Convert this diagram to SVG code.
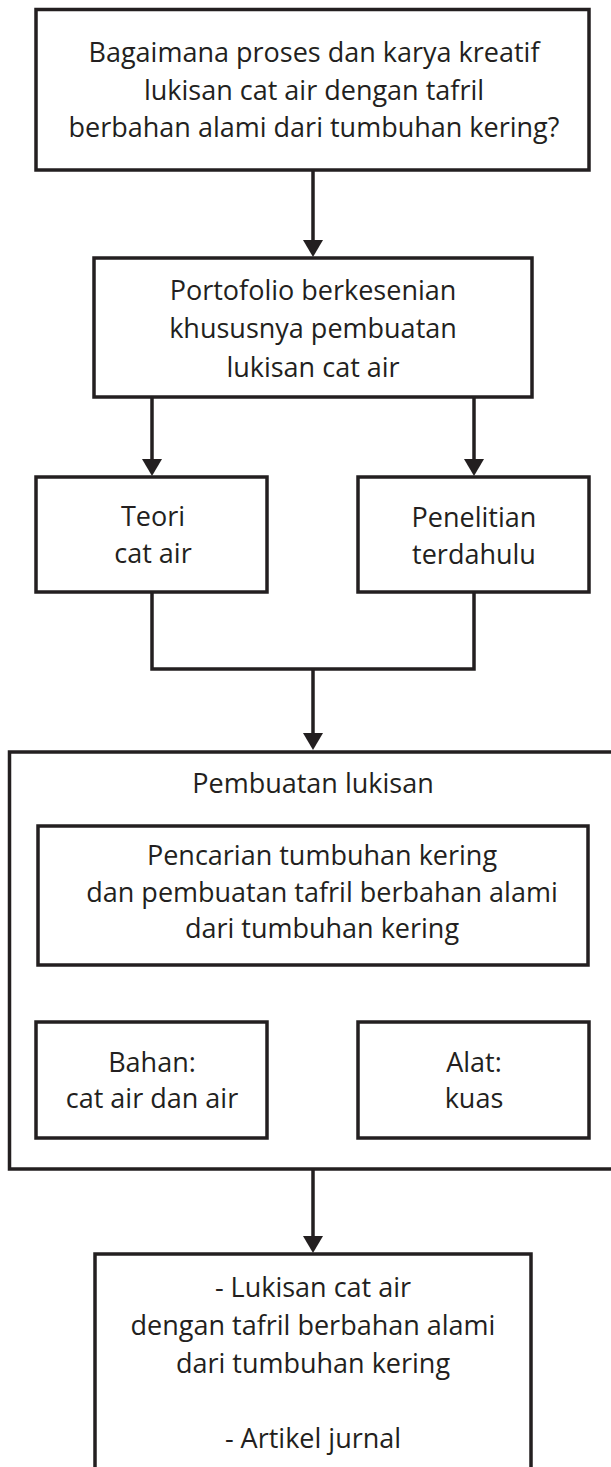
<svg xmlns="http://www.w3.org/2000/svg" width="611" height="1467" viewBox="0 0 611 1467">
<style>
.box{fill:#fff;stroke:#231f20;stroke-width:3.5}
.con{fill:none;stroke:#231f20;stroke-width:3.5}
text{font-family:"Open Sans",Lato,sans-serif;font-size:27px;fill:#231f20;text-anchor:middle;font-variant-ligatures:none}
</style>
<defs>
<marker id="arr" viewBox="0 0 17 20" refX="9" refY="10" markerWidth="17" markerHeight="20" markerUnits="userSpaceOnUse" orient="auto">
<path d="M0,0 L17,10 L0,20 z" fill="#231f20"/>
</marker>
</defs>
<rect width="611" height="1467" fill="#fff"/>
<g id="connectors">
<path class="con" d="M313,170 V249" marker-end="url(#arr)"/>
<path class="con" d="M152,397 V468" marker-end="url(#arr)"/>
<path class="con" d="M474,397 V468" marker-end="url(#arr)"/>
<path class="con" d="M152,592 V669 H474 V592"/>
<path class="con" d="M313,669 V742" marker-end="url(#arr)"/>
<path class="con" d="M313,1169 V1245" marker-end="url(#arr)"/>
</g>
<g id="n1">
<rect class="box" x="36" y="9.5" width="553" height="160.5"/>
<text x="314" y="62">Bagaimana proses dan karya kreatif</text>
<text x="314" y="100">lukisan cat air dengan tafril</text>
<text x="314" y="137">berbahan alami dari tumbuhan kering?</text>
</g>
<g id="n2">
<rect class="box" x="94" y="258" width="438" height="139"/>
<text x="313" y="300">Portofolio berkesenian</text>
<text x="313" y="338">khususnya pembuatan</text>
<text x="313" y="377">lukisan cat air</text>
</g>
<g id="n3">
<rect class="box" x="36" y="477" width="231" height="115"/>
<text x="153" y="526">Teori</text>
<text x="153" y="563">cat air</text>
</g>
<g id="n4">
<rect class="box" x="358" y="477" width="231" height="115"/>
<text x="474" y="527">Penelitian</text>
<text x="474" y="564">terdahulu</text>
</g>
<g id="n5">
<rect class="box" x="9.5" y="752" width="620" height="417"/>
<text x="313" y="793">Pembuatan lukisan</text>
</g>
<g id="n6">
<rect class="box" x="38" y="826" width="550" height="139"/>
<text x="322" y="865">Pencarian tumbuhan kering</text>
<text x="322" y="902">dan pembuatan tafril berbahan alami</text>
<text x="322" y="938">dari tumbuhan kering</text>
</g>
<g id="n7">
<rect class="box" x="36" y="1022" width="231" height="116"/>
<text x="152" y="1072">Bahan:</text>
<text x="152" y="1108">cat air dan air</text>
</g>
<g id="n8">
<rect class="box" x="358" y="1022" width="231" height="116"/>
<text x="474" y="1072">Alat:</text>
<text x="474" y="1108">kuas</text>
</g>
<g id="n9">
<rect class="box" x="95" y="1254" width="436" height="240"/>
<text x="313" y="1297">- Lukisan cat air</text>
<text x="313" y="1335">dengan tafril berbahan alami</text>
<text x="313" y="1373">dari tumbuhan kering</text>
<text x="313" y="1448">- Artikel jurnal</text>
</g>
</svg>
